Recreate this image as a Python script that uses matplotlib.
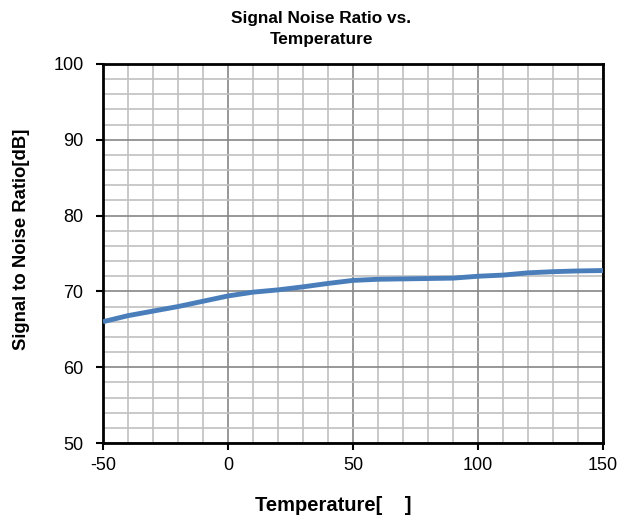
import numpy as np
import matplotlib
matplotlib.use('Agg')
import matplotlib.pyplot as plt
from matplotlib.ticker import MultipleLocator

# Data
temperature = [-50, -40, -30, -20, -10, 0, 10, 20, 30, 40, 50,
               60, 70, 80, 90, 100, 110, 120, 130, 140, 150]
snr_db = [66.0, 66.8, 67.4, 68.0, 68.7, 69.4, 69.9, 70.2, 70.6, 71.05, 71.45,
          71.6, 71.65, 71.7, 71.75, 72.0, 72.15, 72.45, 72.6, 72.7, 72.75]

plt.rcParams['font.family'] = ['Liberation Sans', 'DejaVu Sans']
plt.rcParams['axes.unicode_minus'] = False

fig = plt.figure(figsize=(6.36, 5.22), dpi=100)
ax = fig.add_axes([103 / 636, 1 - 443 / 522, 500 / 636, 379 / 522])

ax.plot(temperature, snr_db, color='#4a7ebb', linewidth=3.5, solid_capstyle='butt', zorder=3)

ax.set_xlim(-50, 150)
ax.set_ylim(50, 100)
ax.xaxis.set_major_locator(MultipleLocator(50))
ax.xaxis.set_minor_locator(MultipleLocator(10))
ax.yaxis.set_major_locator(MultipleLocator(10))
ax.yaxis.set_minor_locator(MultipleLocator(2))

ax.grid(which='minor', color='#c0c0c0', linewidth=1.2)
ax.grid(which='major', color='#868686', linewidth=1.2)
ax.set_axisbelow(True)

for s in ax.spines.values():
    s.set_color('black')
    s.set_linewidth(2)

ax.tick_params(which='major', direction='out', length=5, width=1.5, labelsize=13)
ax.tick_params(axis='y', which='major', pad=9)
ax.tick_params(axis='x', which='major', pad=5)
ax.tick_params(which='minor', length=0)

# title sits over the chart area, not the plot area
fig.text(321 / 636, 1 - 29 / 522, 'Signal Noise Ratio vs.\nTemperature', fontsize=12.4,
         fontweight='bold', ha='center', va='center', linespacing=1.45)
ax.set_xlabel('Temperature[    ]', fontsize=14.5, fontweight='bold', ha='center', va='center')
ax.xaxis.set_label_coords(0.46, -0.164)
ax.set_ylabel('Signal to Noise Ratio[dB]', fontsize=13.3, fontweight='bold', ha='center', va='center')
ax.yaxis.set_label_coords(-0.162, 0.538)

fig.savefig('out.png', dpi=100)
